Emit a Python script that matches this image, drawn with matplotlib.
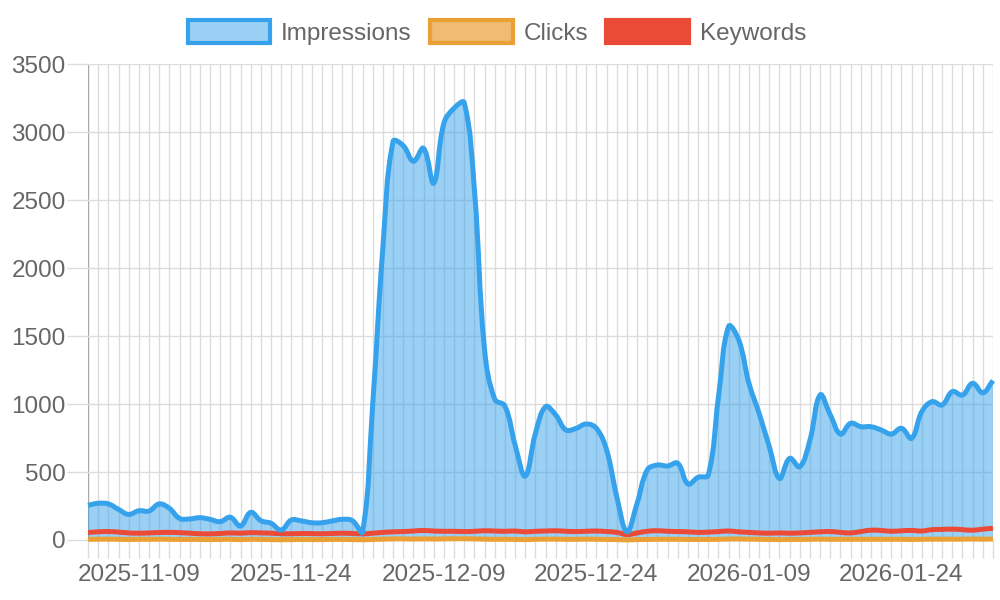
import numpy as np
import pandas as pd
import matplotlib
matplotlib.use("Agg")
import matplotlib.pyplot as plt
from matplotlib.path import Path
from matplotlib.patches import PathPatch, Patch

plt.rcParams['font.family'] = ['Liberation Sans', 'DejaVu Sans']

# dates (one day missing around christmas)
dates = pd.date_range("2025-11-04", "2026-02-02").drop(pd.Timestamp("2025-12-25"))
labels = [d.strftime("%Y-%m-%d") for d in dates]
shown_labels = ["2025-11-09", "2025-11-24", "2025-12-09", "2025-12-24", "2026-01-09", "2026-01-24"]

impressions = [255, 270, 265, 225, 188, 215, 213, 265, 233, 159,
               155, 164, 152, 135, 167, 103, 203, 142, 123, 74,
               147, 140, 127, 127, 140, 152, 142, 61,
               1000, 2150, 2930, 2900, 2785, 2880, 2625, 3065, 3175, 3215,
               2575, 1400, 1035, 985, 700, 470,
               784, 980, 919, 809, 821, 853, 821, 662, 319, 61,
               270, 515, 551, 544, 564, 412, 461, 478,
               1050, 1570, 1470, 1152, 931, 686, 453, 600, 539, 735, 1066, 920, 779,
               858, 833, 833, 809, 779, 821, 748, 944, 1017, 993, 1091, 1066, 1152, 1083, 1172]

clicks = [5, 6, 6, 5, 4, 5, 5, 6, 5, 4,
          4, 4, 3, 4, 5, 3, 5, 4, 3, 2,
          3, 4, 3, 3, 4, 4, 3, 2,
          4, 6, 8, 8, 7, 8, 7, 8, 9, 9,
          8, 6, 5, 5, 4, 3,
          5, 6, 6, 5, 5, 6, 5, 4, 3, 1,
          3, 4, 5, 5, 5, 4, 4, 4,
          5, 7, 7, 6, 5, 4, 3, 4, 4, 5, 6, 5, 5,
          5, 5, 5, 5, 5, 5, 4, 5, 6, 6, 6, 6, 7, 6, 7]

keywords = [55, 60, 62, 58, 52, 50, 52, 55, 56, 54,
            50, 46, 45, 48, 52, 50, 54, 52, 50, 46,
            46, 48, 47, 46, 48, 50, 48, 45,
            50, 56, 60, 62, 66, 70, 66, 64, 64, 62,
            64, 68, 66, 64, 66, 60,
            64, 66, 68, 64, 62, 64, 66, 62, 56, 40,
            52, 64, 68, 64, 62, 60, 56, 58,
            62, 66, 60, 56, 52, 50, 52, 50, 52, 56, 60, 62, 56,
            52, 62, 72, 70, 64, 68, 70, 66, 76, 78, 80, 76, 72, 80, 86]

blue = '#36A2EB'
orange = '#EBA035'
red = '#EB4A36'
txt = '#666666'
grid_c = '#dcdcdc'
zero_c = '#a8a8a8'

fig = plt.figure(figsize=(10, 6), dpi=100)
ax = fig.add_axes([0.088, 0.1, 0.905, 0.7933])

x = np.arange(len(labels))
ax.set_xlim(0, len(labels) - 1)
ax.set_ylim(0, 3500)


def spline(xs, ys, tension=0.4):
    # bezier control points like chart.js, worked out in pixel space
    pts = ax.transData.transform(np.column_stack([xs, ys]))
    y_lo, y_hi = ax.bbox.y0, ax.bbox.y1
    n = len(pts)
    cps, cns = [], []
    for i in range(n):
        prev, cur, nxt = pts[max(i - 1, 0)], pts[i], pts[min(i + 1, n - 1)]
        d01 = np.hypot(*(cur - prev))
        d12 = np.hypot(*(nxt - cur))
        tot = d01 + d12
        fa = tension * (d01 / tot if tot else 0)
        fb = tension * (d12 / tot if tot else 0)
        cp = cur - fa * (nxt - prev)
        cn = cur + fb * (nxt - prev)
        cp[1] = min(max(cp[1], y_lo), y_hi)
        cn[1] = min(max(cn[1], y_lo), y_hi)
        cps.append(cp)
        cns.append(cn)
    verts = [pts[0]]
    for i in range(n - 1):
        verts += [cns[i], cps[i + 1], pts[i + 1]]
    return ax.transData.inverted().transform(np.array(verts))


def draw_series(vals, color, fillcolor, z):
    v = spline(x, vals)
    codes = [Path.MOVETO] + [Path.CURVE4] * (len(v) - 1)
    if fillcolor is not None:
        fv = np.vstack([v, [[x[-1], 0], [x[0], 0], v[0]]])
        fc = codes + [Path.LINETO, Path.LINETO, Path.CLOSEPOLY]
        ax.add_patch(PathPatch(Path(fv, fc), facecolor=fillcolor, edgecolor='none', zorder=2))
    ax.add_patch(PathPatch(Path(v, codes), facecolor='none', edgecolor=color,
                           linewidth=3.6, zorder=z, clip_on=False))


draw_series(impressions, blue, (54/255, 162/255, 235/255, 0.5), 5)
draw_series(clicks, orange, (235/255, 160/255, 53/255, 0.5), 4)
draw_series(keywords, red, None, 3)

# axes look
for s in ax.spines.values():
    s.set_visible(False)
ax.set_axisbelow(True)

ax.set_xticks(x)
ax.set_xticklabels([l if l in shown_labels else '' for l in labels])
ax.set_yticks(np.arange(0, 3501, 500))
ax.grid(True, color=grid_c, linewidth=1.0, alpha=1)
ax.tick_params(axis='x', length=13, width=1.0, color=grid_c, pad=4,
               labelsize=17.5, labelcolor=txt)
ax.tick_params(axis='y', length=15, width=1.0, color=grid_c, pad=1,
               labelsize=17.5, labelcolor=txt)

t0 = ax.xaxis.get_major_ticks()[0]
t0.gridline.set_color(zero_c)
t0.tick1line.set_color(zero_c)
y0 = ax.yaxis.get_major_ticks()[0]
y0.gridline.set_color(zero_c)
y0.tick1line.set_color(zero_c)

handles = [Patch(facecolor=(54/255, 162/255, 235/255, 0.5), edgecolor=blue, linewidth=3, label='Impressions'),
           Patch(facecolor=(235/255, 160/255, 53/255, 0.7), edgecolor=orange, linewidth=3, label='Clicks'),
           Patch(facecolor=red, edgecolor=red, linewidth=3, label='Keywords')]
leg = fig.legend(handles=handles, loc='center', bbox_to_anchor=(0.497, 0.946), ncol=3,
                 frameon=False, fontsize=17.5, handlelength=3.4, handleheight=1.05,
                 handletextpad=0.45, columnspacing=0.75)
for t in leg.get_texts():
    t.set_color(txt)

fig.savefig('out.png', dpi=100)
